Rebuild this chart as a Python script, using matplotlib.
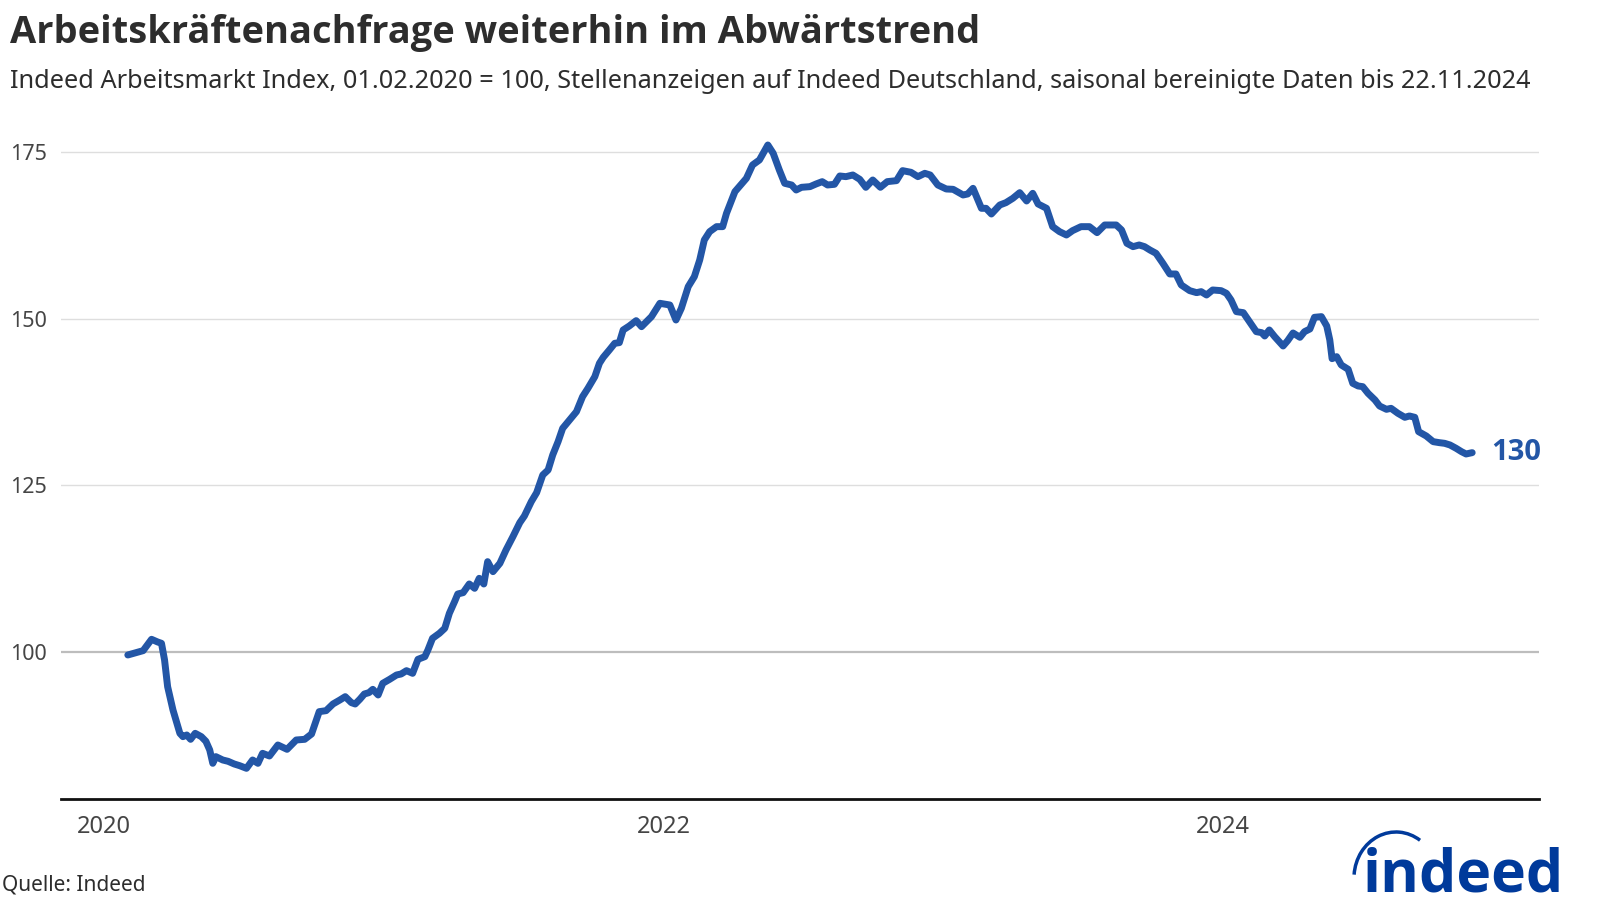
import pandas as pd
import matplotlib
matplotlib.use("Agg")
import matplotlib.pyplot as plt
from matplotlib.patches import Arc

# Indeed Arbeitsmarkt Index
# days after the base date 01.02.2020 and the index value on that day
base_date = "2020-02-01"
days = [0, 11, 20, 31, 39, 44, 48, 52, 59, 68, 72, 77, 82, 88, 96, 102, 107, 111,
        115, 124, 131, 139, 146, 155, 163, 170, 176, 185, 196, 208, 220, 231, 240,
        244, 250, 259, 268, 277, 284, 292, 297, 303, 309, 315, 320, 327, 333, 342,
        351, 357, 364, 372, 379, 388, 392, 398, 407, 414, 420, 427, 431, 438, 446,
        453, 459, 465, 470, 477, 486, 494, 503, 512, 518, 527, 534, 542, 549, 555,
        562, 568, 577, 586, 594, 601, 610, 616, 621, 629, 636, 642, 647, 655, 664,
        671, 684, 695, 708, 716, 723, 732, 740, 747, 753, 760, 769, 777, 782, 793,
        808, 816, 825, 836, 843, 851, 858, 867, 873, 880, 891, 899, 907, 914, 923,
        930, 938, 947, 956, 964, 973, 983, 992, 1004, 1012, 1023, 1032, 1041, 1048,
        1058, 1069, 1078, 1091, 1097, 1104, 1115, 1121, 1128, 1139, 1147, 1156,
        1165, 1174, 1182, 1189, 1200, 1208, 1217, 1226, 1234, 1245, 1256, 1266,
        1276, 1291, 1298, 1305, 1313, 1321, 1328, 1335, 1343, 1352, 1361, 1369,
        1376, 1387, 1396, 1402, 1409, 1417, 1428, 1435, 1441, 1448, 1457, 1465,
        1474, 1481, 1485, 1491, 1498, 1509, 1515, 1522, 1531, 1537, 1544, 1550,
        1559, 1566, 1570, 1573, 1579, 1585, 1594, 1600, 1607, 1613, 1620, 1629,
        1635, 1644, 1650, 1659, 1668, 1674, 1681, 1686, 1696, 1705, 1713, 1720,
        1727, 1735, 1742, 1748, 1756]
index = [99.55, 99.9, 100.2, 101.9, 101.5, 101.3, 98.8, 94.8, 91.3, 87.8, 87.3,
         87.55, 86.9, 87.8, 87.3, 86.6, 85.3, 83.3, 84.3, 83.8, 83.6, 83.2, 82.95,
         82.55, 83.8, 83.3, 84.8, 84.4, 86.05, 85.4, 86.8, 86.9, 87.7, 89.05, 91.05,
         91.2, 92.2, 92.8, 93.3, 92.4, 92.2, 92.9, 93.7, 93.9, 94.4, 93.55, 95.3,
         95.9, 96.55, 96.7, 97.2, 96.8, 98.9, 99.3, 100.3, 102.05, 102.8, 103.55,
         105.8, 107.6, 108.7, 108.9, 110.2, 109.55, 111.05, 110.2, 113.55, 112.05,
         113.3, 115.3, 117.3, 119.4, 120.4, 122.55, 123.9, 126.55, 127.3, 129.55,
         131.55, 133.55, 134.8, 136.05, 138.3, 139.55, 141.3, 143.3, 144.2, 145.3,
         146.3, 146.4, 148.3, 148.9, 149.7, 148.8, 150.3, 152.3, 152.05, 149.8,
         151.55, 154.8, 156.3, 158.8, 161.8, 163.05, 163.8, 163.8, 165.8, 169.05,
         171.05, 173.05, 173.8, 176.05, 174.8, 172.3, 170.3, 170.05, 169.3, 169.7,
         169.8, 170.2, 170.55, 170.05, 170.15, 171.4, 171.3, 171.55, 170.9, 169.7,
         170.8, 169.7, 170.55, 170.7, 172.2, 171.95, 171.3, 171.8, 171.55, 170.05,
         169.45, 169.4, 168.55, 168.7, 169.55, 166.55, 166.55, 165.7, 167.05, 167.4,
         168.05, 168.9, 167.65, 168.8, 167.2, 166.55, 163.8, 163.05, 162.55, 163.2,
         163.8, 163.8, 162.9, 164.05, 164.05, 163.3, 161.3, 160.8, 161.05, 160.8,
         160.3, 159.8, 158.3, 156.7, 156.7, 155.05, 154.2, 153.9, 154.05, 153.55,
         154.3, 154.2, 153.8, 152.8, 151.05, 150.9, 149.55, 148.05, 147.9, 147.4,
         148.3, 147.3, 145.9, 146.7, 147.85, 147.2, 148.05, 148.45, 150.2, 150.3,
         148.9, 146.8, 144.0, 144.3, 143.05, 142.4, 140.3, 139.9, 139.8, 138.8,
         137.8, 136.9, 136.4, 136.55, 135.8, 135.2, 135.4, 135.2, 133.05, 132.4,
         131.55, 131.4, 131.3, 131.05, 130.55, 130.05, 129.7, 129.9]

y_ticks = [100, 125, 150, 175]
x_ticks = ["2020-01-01", "2022-01-01", "2024-01-01"]
x_tick_labels = ["2020", "2022", "2024"]
end_label = "130"

title = "Arbeitskräftenachfrage weiterhin im Abwärtstrend"
subtitle = ("Indeed Arbeitsmarkt Index, 01.02.2020 = 100, Stellenanzeigen auf Indeed "
            "Deutschland, saisonal bereinigte Daten bis 22.11.2024")
source = "Quelle: Indeed"

blue = "#2356a6"
logo_blue = "#003a9b"
text_dark = "#2d2d2d"
tick_grey = "#454545"

plt.rcParams["font.family"] = ["Noto Sans", "DejaVu Sans"]
bold_fam = ["Open Sans", "DejaVu Sans"]  # noto here has no bold face

dates = pd.Timestamp(base_date) + pd.to_timedelta(days, unit="D")

fig = plt.figure(figsize=(16, 9.14), dpi=100)
ax = fig.add_axes([0.03825, 0.1262, 0.9235, 0.7294])

ax.plot(dates, index, color=blue, lw=5, solid_joinstyle="round",
        solid_capstyle="round", zorder=3)

# value label at the end of the line
ax.annotate(end_label, (dates[-1], index[-1]), xytext=(14, 0),
            textcoords="offset points", ha="left", va="center",
            fontsize=21, fontweight="bold", family=bold_fam, color=blue)

ax.set_ylim(78, 178)
ax.set_xlim(pd.Timestamp("2019-11-06"), pd.Timestamp("2025-02-17"))

# grid lines, 100 is a bit darker
for v in y_ticks:
    ax.axhline(v, color="#bdbdbd" if v == 100 else "#dedede",
               lw=1.6 if v == 100 else 1.0, zorder=1)

ax.set_yticks(y_ticks)
ax.set_yticklabels([str(v) for v in y_ticks])
ax.set_xticks(pd.to_datetime(x_ticks))
ax.set_xticklabels(x_tick_labels)
ax.tick_params(axis="y", length=0, pad=36.5, labelsize=15.5, labelcolor=tick_grey)
ax.tick_params(axis="x", length=0, pad=12, labelsize=17, labelcolor=tick_grey)
for lab in ax.get_yticklabels():
    lab.set_horizontalalignment("left")

for side in ["top", "right", "left"]:
    ax.spines[side].set_visible(False)
ax.spines["bottom"].set_color("#111111")
ax.spines["bottom"].set_linewidth(2.0)

# titles and source
fig.text(10 / 1600, 1 - 43 / 914, title, fontsize=27.4, fontweight="bold",
         family=bold_fam, color=text_dark, va="baseline", ha="left")
fig.text(10 / 1600, 1 - 88 / 914, subtitle, fontsize=18.2, color=text_dark,
         va="baseline", ha="left")
fig.text(2 / 1600, 1 - 890 / 914, source, fontsize=15, color=text_dark,
         va="baseline", ha="left")

# indeed logo, approximated with text and an arc
fig.text(1564 / 1600, 1 - 891 / 914, "indeed", fontsize=42.5, fontweight="bold",
         family=bold_fam, color=logo_blue, va="baseline", ha="right")
fig.patches.append(Arc((1396 / 1600, 36 / 914), 84 / 1600, 92 / 914,
                       theta1=70, theta2=172, lw=2.5, color=logo_blue,
                       transform=fig.transFigure, figure=fig))

fig.savefig("out.png", dpi=100, facecolor="white")
